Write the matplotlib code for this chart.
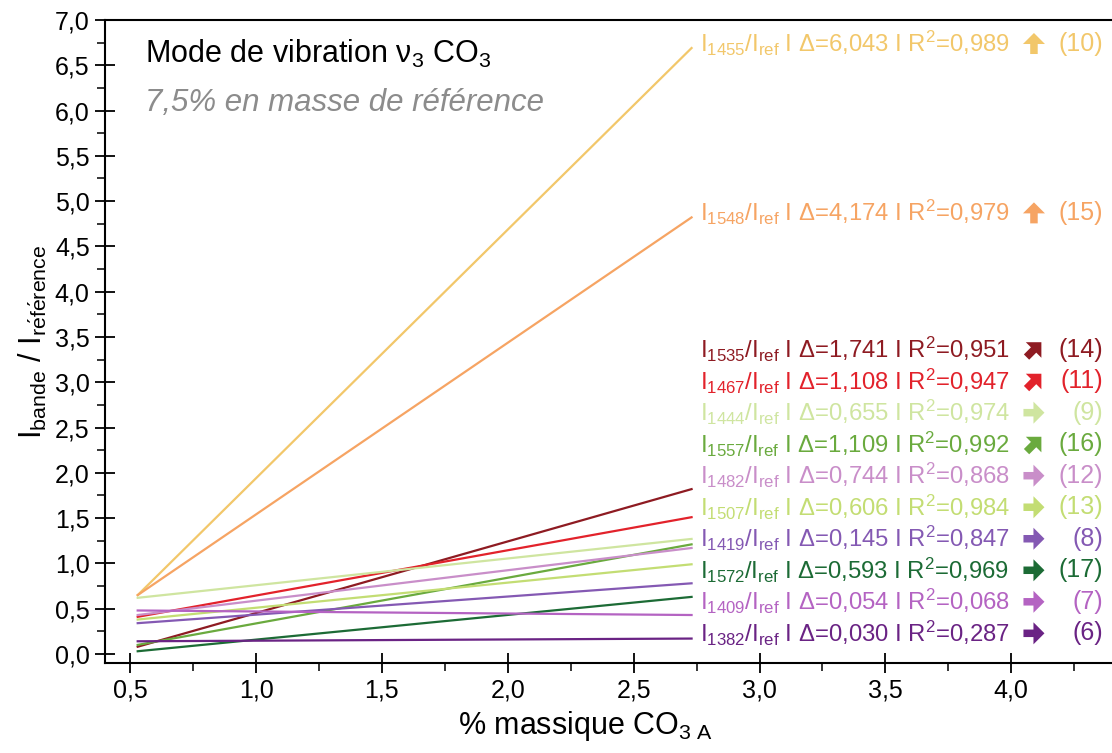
import matplotlib
matplotlib.use("Agg")
import matplotlib.pyplot as plt
from matplotlib.ticker import MultipleLocator, FuncFormatter
from matplotlib.patches import FancyArrow
from matplotlib.transforms import ScaledTranslation

plt.rcParams['font.family'] = ['Liberation Sans', 'DejaVu Sans']
plt.rcParams['mathtext.fontset'] = 'custom'
plt.rcParams['mathtext.rm'] = 'Liberation Sans'
plt.rcParams['mathtext.it'] = 'Liberation Sans:italic'
plt.rcParams['mathtext.bf'] = 'Liberation Sans:bold'

# data
bands = ['1455', '1548', '1535', '1467', '1444', '1557', '1482', '1507', '1419', '1572', '1409', '1382']
y_start = [0.65, 0.65, 0.08, 0.41, 0.62, 0.10, 0.43, 0.38, 0.34, 0.03, 0.48, 0.14]
y_end = [6.69, 4.82, 1.82, 1.51, 1.27, 1.21, 1.17, 0.99, 0.78, 0.63, 0.43, 0.17]
x_range = [0.53, 2.73]
deltas = ['6,043', '4,174', '1,741', '1,108', '0,655', '1,109', '0,744', '0,606', '0,145', '0,593', '0,054', '0,030']
r2 = ['0,989', '0,979', '0,951', '0,947', '0,974', '0,992', '0,868', '0,984', '0,847', '0,969', '0,068', '0,287']
trend = ['up', 'up', 'ne', 'ne', 'right', 'ne', 'right', 'right', 'right', 'right', 'right', 'right']
numbers = ['10', '15', '14', '11', '9', '16', '12', '13', '8', '17', '7', '6']
colors = ['#f2c76a', '#f6a463', '#8e1b22', '#e2222b', '#cfe5a0', '#6aaa3e', '#c98ec9',
          '#c3dd73', '#8459b3', '#1c6b35', '#b463c2', '#6a2384']

arrow_dirs = {'up': (0, 1), 'ne': (0.707, 0.707), 'right': (1, 0)}

fig = plt.figure(figsize=(11.12, 7.53), dpi=100)
ax = fig.add_axes([0.0944, 0.1195, 0.9056, 0.854])

for i in range(len(bands)):
    ax.plot(x_range, [y_start[i], y_end[i]], color=colors[i], lw=1.6)

# label positions: the two big ones next to their line end, the rest stacked
label_y = []
for i in range(len(bands)):
    if i < 2:
        label_y.append(y_end[i] + 0.05)
    else:
        label_y.append(3.36 - 0.348 * (i - 2))

L = 0.21  # arrow length in inches
for i in range(len(bands)):
    txt = r'I$_{%s}$/I$_{\mathrm{ref}}$ I $\Delta$=%s I R$^{2}$=%s' % (bands[i], deltas[i], r2[i])
    ax.text(2.765, label_y[i], txt, color=colors[i], fontsize=17.2, va='center', ha='left')
    dx, dy = arrow_dirs[trend[i]]
    tr = fig.dpi_scale_trans + ScaledTranslation(4.09, label_y[i], ax.transData)
    arr = FancyArrow(-dx * L / 2, -dy * L / 2, dx * L, dy * L, width=0.075, head_width=0.22,
                     head_length=0.11, length_includes_head=True, color=colors[i], lw=0,
                     transform=tr)
    ax.add_patch(arr)
    ax.text(4.365, label_y[i], '(%s)' % numbers[i], color=colors[i], fontsize=18,
            va='center', ha='right')

ax.text(0.56, 6.62, 'Mode de vibration ν$_{3}$ CO$_{3}$', fontsize=22, va='center', ha='left')
ax.text(0.56, 6.08, '7,5% en masse de référence', fontsize=22.5, style='italic',
        color='#8c8c8c', va='center', ha='left')

ax.set_xlim(0.4, 4.4)
ax.set_ylim(-0.1, 7.0)
ax.xaxis.set_major_locator(MultipleLocator(0.5))
ax.xaxis.set_minor_locator(MultipleLocator(0.25))
ax.yaxis.set_major_locator(MultipleLocator(0.5))
ax.yaxis.set_minor_locator(MultipleLocator(0.25))
fmt = FuncFormatter(lambda v, p: ('%.1f' % v).replace('.', ','))
ax.xaxis.set_major_formatter(fmt)
ax.yaxis.set_major_formatter(fmt)
ax.tick_params(which='major', direction='inout', length=14, width=1.3, labelsize=18, pad=4)
ax.tick_params(which='minor', direction='out', length=6, width=1.1)
ax.set_xticks([t for t in ax.get_xticks() if 0.49 <= t <= 4.01])

for s in ['left', 'bottom', 'top']:
    ax.spines[s].set_linewidth(1.5)
ax.spines['right'].set_visible(False)

ax.set_xlabel(r'% massique CO$_{\mathrm{3\ A}}$', fontsize=22)
ax.xaxis.set_label_coords(0.477, -0.072)
ax.set_ylabel(r'I$_{\mathrm{bande}}$ / I$_{\mathrm{r\acute{e}f\acute{e}rence}}$', fontsize=22, labelpad=4)

fig.savefig('out.png', dpi=100)
